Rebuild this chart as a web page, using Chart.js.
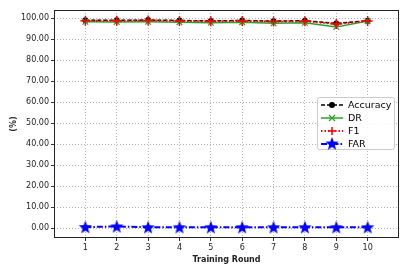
<!DOCTYPE html>
<html>
<head>
<meta charset="utf-8">
<script src="https://cdn.jsdelivr.net/npm/chart.js@4/dist/chart.umd.min.js"></script>
<style>
  html, body { margin: 0; padding: 0; background: #fff; }
  #wrap { width: 409px; height: 273px; }
</style>
</head>
<body>
<div id="wrap"><canvas id="chart" width="409" height="273"></canvas></div>
<script>
const rounds = [1, 2, 3, 4, 5, 6, 7, 8, 9, 10];
const accuracy = [99.0, 99.0, 99.1, 98.9, 98.7, 98.9, 98.6, 98.8, 97.5, 98.8];
const dr = [98.3, 98.2, 98.3, 98.1, 97.8, 98.1, 97.6, 97.8, 95.8, 98.6];
const f1 = [98.8, 98.8, 98.9, 98.7, 98.5, 98.7, 98.4, 98.6, 97.2, 98.7];
const far = [0.5, 0.8, 0.4, 0.4, 0.4, 0.4, 0.4, 0.4, 0.4, 0.4];
const yTicks = [0, 10, 20, 30, 40, 50, 60, 70, 80, 90, 100];

const FONT = 'DejaVu Sans';

function starImage(size, color) {
    const c = document.createElement('canvas');
    c.width = size; c.height = size;
    const g = c.getContext('2d');
    const cx = size / 2, cy = size / 2 + 0.5, R = size / 2, r = R * 0.42;
    g.beginPath();
    for (let i = 0; i < 10; i++) {
        const rad = i % 2 === 0 ? R : r;
        const a = -Math.PI / 2 + i * Math.PI / 5;
        g.lineTo(cx + rad * Math.cos(a), cy + rad * Math.sin(a));
    }
    g.closePath();
    g.fillStyle = color;
    g.fill();
    return c;
}
const star = starImage(14, '#0000ff');

function pts(arr) {
    return arr.map((v, i) => ({ x: rounds[i], y: v }));
}

const legendItems = [
    { label: 'Accuracy', color: '#000000', dash: [4, 2], width: 1.5, marker: 'circle' },
    { label: 'DR', color: '#2ca02c', dash: [], width: 1.5, marker: 'x' },
    { label: 'F1', color: '#ff0000', dash: [1.5, 2], width: 2, marker: 'plus' },
    { label: 'FAR', color: '#0000ff', dash: [6, 2, 1.5, 2], width: 2, marker: 'star' }
];

const boxLegend = {
    id: 'boxLegend',
    afterDraw(chart) {
        const g = chart.ctx;
        const x0 = 317, y0 = 97, w = 77, h = 52;
        g.save();
        g.fillStyle = 'rgba(255,255,255,0.85)';
        g.strokeStyle = '#cccccc';
        g.lineWidth = 1;
        g.beginPath();
        g.roundRect(x0 + 0.5, y0 + 0.5, w, h, 2);
        g.fill();
        g.stroke();
        legendItems.forEach((it, i) => {
            const y = y0 + 8 + i * 13;
            const lx = x0 + 4;
            g.strokeStyle = it.color;
            g.lineWidth = it.width;
            g.setLineDash(it.dash);
            g.beginPath();
            g.moveTo(lx, y);
            g.lineTo(lx + 22, y);
            g.stroke();
            g.setLineDash([]);
            const mx = lx + 11;
            g.fillStyle = it.color;
            if (it.marker === 'circle') {
                g.beginPath(); g.arc(mx, y, 3, 0, Math.PI * 2); g.fill();
            } else if (it.marker === 'x') {
                g.lineWidth = 1.2;
                g.beginPath();
                g.moveTo(mx - 3, y - 3); g.lineTo(mx + 3, y + 3);
                g.moveTo(mx + 3, y - 3); g.lineTo(mx - 3, y + 3);
                g.stroke();
            } else if (it.marker === 'plus') {
                g.lineWidth = 1.5;
                g.beginPath();
                g.moveTo(mx - 4, y); g.lineTo(mx + 4, y);
                g.moveTo(mx, y - 4); g.lineTo(mx, y + 4);
                g.stroke();
            } else {
                g.drawImage(star, mx - 7, y - 7.5);
            }
            g.fillStyle = '#000';
            g.font = '9.5px ' + FONT;
            g.textBaseline = 'middle';
            g.fillText(it.label, lx + 27, y + 0.5);
        });
        g.restore();
    }
};

const frame = {
    id: 'frame',
    afterDatasetsDraw(chart) {
        const a = chart.chartArea, g = chart.ctx;
        g.save();
        g.strokeStyle = '#222';
        g.lineWidth = 1;
        g.strokeRect(a.left + 0.5, a.top + 0.5, a.right - a.left - 1, a.bottom - a.top - 1);
        g.restore();
    }
};

new Chart(document.getElementById('chart').getContext('2d'), {
    type: 'line',
    data: {
        datasets: [
            {
                label: 'Accuracy', data: pts(accuracy), order: 4,
                borderColor: '#000', backgroundColor: '#000', borderWidth: 1.5,
                borderDash: [4, 2], pointStyle: 'circle', pointRadius: 3,
                pointBorderWidth: 0
            },
            {
                label: 'DR', data: pts(dr), order: 3,
                borderColor: '#2ca02c', backgroundColor: '#2ca02c', borderWidth: 1.5,
                pointStyle: 'crossRot', pointRadius: 4, pointBorderWidth: 1.2
            },
            {
                label: 'F1', data: pts(f1), order: 2,
                borderColor: '#ff0000', backgroundColor: '#ff0000', borderWidth: 2,
                borderDash: [1.5, 2], pointStyle: 'cross', pointRadius: 5,
                pointBorderWidth: 1.5
            },
            {
                label: 'FAR', data: pts(far), order: 1,
                borderColor: '#0000ff', backgroundColor: '#0000ff', borderWidth: 2,
                borderDash: [6, 2, 1.5, 2], pointStyle: star, pointRadius: 7
            }
        ]
    },
    options: {
        responsive: false,
        animation: false,
        layout: { padding: { top: 10, right: 10, left: 9, bottom: 8 } },
        plugins: { legend: { display: false }, tooltip: { enabled: false } },
        scales: {
            x: {
                type: 'linear', min: 0, max: 11,
                afterBuildTicks(axis) { axis.ticks = rounds.map(v => ({ value: v })); },
                afterFit(axis) { axis.height = 27; },
                grid: { color: '#b0b0b0', tickLength: 3, tickColor: '#333' },
                border: { display: false, dash: [1, 2] },
                ticks: { color: '#222', font: { family: FONT, size: 8 }, padding: 2, maxRotation: 0,
                    callback: v => String(v) },
                title: { display: true, text: 'Training Round', color: '#222',
                    font: { family: FONT, size: 8, weight: 'bold' }, padding: { top: 2, bottom: 0 } }
            },
            y: {
                min: -4.7, max: 103.9,
                afterBuildTicks(axis) { axis.ticks = yTicks.map(v => ({ value: v })); },
                afterFit(axis) { axis.width = 45; },
                grid: { color: '#b0b0b0', tickLength: 3, tickColor: '#333' },
                border: { display: false, dash: [1, 2] },
                ticks: { color: '#222', font: { family: FONT, size: 8 }, padding: 2,
                    callback: v => v.toFixed(2) },
                title: { display: true, text: '(%)', color: '#222',
                    font: { family: FONT, size: 8, weight: 'bold' }, padding: { top: 0, bottom: 0 } }
            }
        }
    },
    plugins: [frame, boxLegend]
});
</script>
</body>
</html>
